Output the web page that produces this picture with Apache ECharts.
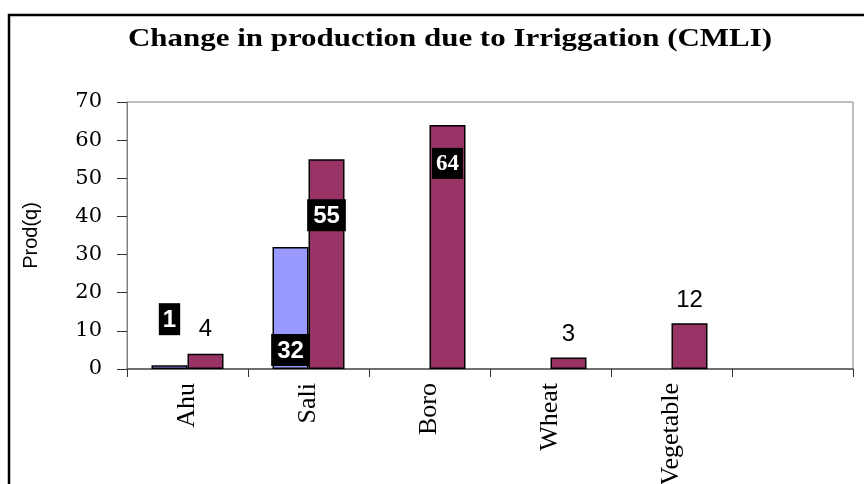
<!DOCTYPE html>
<html><head><meta charset="utf-8">
<script src="https://cdn.jsdelivr.net/npm/echarts@6/dist/echarts.min.js"></script>
<style>html,body{margin:0;padding:0;background:#fff}#c{width:864px;height:484px}</style>
</head><body><div id="c"></div>
<script>
const categories = ['Ahu', 'Sali', 'Boro', 'Wheat', 'Vegetable', ''];
const seriesBefore = [1, 32, null, null, null, null];
const seriesAfter = [4, 55, 64, 3, 12, null];
const yTicks = [0, 10, 20, 30, 40, 50, 60, 70];
const titleText = 'Change in production due to Irriggation (CMLI)';
const yName = 'Prod(q)';

const boxLabel = {backgroundColor:'#000', color:'#fff', fontWeight:'bold', fontFamily:'Liberation Sans, Arial', fontSize:24, padding:[5,6,3,6]};
const plainLabel = {color:'#000', fontFamily:'Liberation Sans, Arial', fontSize:24};
const beforeLabels = [
  Object.assign({show:true, position:'top', distance:30}, boxLabel, {padding:[5,4,3,4]}),
  Object.assign({show:true, position:'insideBottom', distance:3}, boxLabel),
  null, null, null, null
];
const afterLabels = [
  Object.assign({show:true, position:'top', distance:12}, plainLabel),
  Object.assign({show:true, position:'insideTop', distance:40}, boxLabel),
  Object.assign({show:true, position:'insideTop', distance:23}, boxLabel, {fontFamily:'Liberation Serif, Times New Roman', fontSize:23, padding:[5,4,3,4]}),
  Object.assign({show:true, position:'top', distance:11}, plainLabel),
  Object.assign({show:true, position:'top', distance:11}, plainLabel),
  null
];
function build(vals, labels){
  return vals.map((v,i)=> v==null ? '-' : {value:v, label: labels[i] || {show:false}});
}
const chart = echarts.init(document.getElementById('c'));
chart.setOption({
  animation:false,
  graphic:[
    {type:'rect', shape:{x:9, y:15, width:900, height:520}, style:{fill:'none', stroke:'#000', lineWidth:2.5}, silent:true},
    {type:'text', x:450, y:39, scaleX:1.19, silent:true,
      style:{text:titleText, font:'bold 26px "Liberation Serif", "Times New Roman", serif', fill:'#000', textAlign:'center', textVerticalAlign:'middle'}}
  ],
  grid:{left:127, top:102, right:11, bottom:115, outerBoundsMode:'none', containLabel:false, show:true, borderColor:'#808080', borderWidth:1, backgroundColor:'transparent'},
  xAxis:{type:'category', data:categories,
    axisLine:{lineStyle:{color:'#555', width:1.5}},
    axisTick:{show:true, length:8, lineStyle:{color:'#333'}},
    axisLabel:{rotate:90, margin:14, color:'#000', fontFamily:'Liberation Serif, Times New Roman', fontSize:26}},
  yAxis:{type:'value', min:yTicks[0], max:yTicks[yTicks.length-1], interval:10,
    name:yName, nameLocation:'middle', nameGap:86,
    nameTextStyle:{fontFamily:'Liberation Sans, Arial', fontSize:20, color:'#000'},
    axisLine:{show:true, lineStyle:{color:'#808080'}},
    axisTick:{show:true, length:10, lineStyle:{color:'#333'}},
    splitLine:{show:false},
    axisLabel:{margin:25, color:'#000', fontFamily:'DejaVu Serif', fontSize:21}},
  series:[
    {type:'bar', data:build(seriesBefore, beforeLabels), barWidth:36, barGap:'0%',
      itemStyle:{color:'#9999FF', borderColor:'#000', borderWidth:1.5}},
    {type:'bar', data:build(seriesAfter, afterLabels), barWidth:36, barGap:'0%',
      itemStyle:{color:'#993366', borderColor:'#000', borderWidth:1.5}}
  ]
});
</script></body></html>
